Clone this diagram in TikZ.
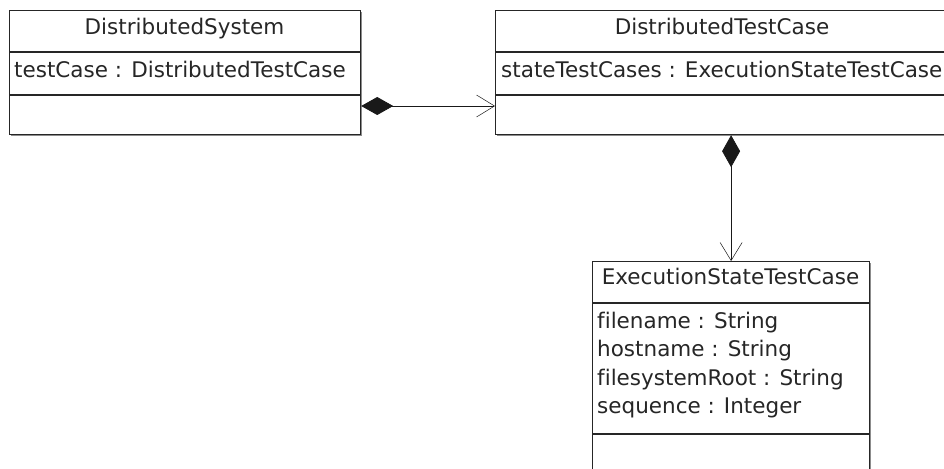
\documentclass[tikz,border=0pt]{standalone}
\usepackage{fontspec}
\setmainfont{DejaVu Sans}[Ligatures=NoCommon]
\usetikzlibrary{arrows.meta,shadows}
\begin{document}
\begin{tikzpicture}[x=1pt,y=-1pt,
  umlbox/.style={draw=black!85, line width=1.2pt, fill=white, anchor=north west, inner sep=0pt,
    drop shadow={shadow xshift=1.6pt, shadow yshift=-1.6pt, fill=black!45, opacity=1}},
  sep/.style={draw=black!85, line width=1.2pt},
  ttl/.style={anchor=base, font=\fontsize{21.5}{25}\selectfont, text=black!85, inner sep=0pt},
  attr/.style={anchor=base west, font=\fontsize{21.5}{25}\selectfont, text=black!85, inner sep=0pt},
  comp/.style={draw=black!90, line width=0.8pt,
    {Diamond[length=32pt,width=18pt]}-{Straight Barb[length=18pt,width=22pt,line width=0.5pt]}}
]
\useasboundingbox (0,0) rectangle (944,468);
\clip (0,0) rectangle (944,468);

% boxes
\node[umlbox, minimum width=351pt, minimum height=124pt] (ds) at (9,10) {};
\node[umlbox, minimum width=455pt, minimum height=124pt] (dtc) at (495,10) {};
\node[umlbox, minimum width=277pt, minimum height=220pt] (esc) at (592,261) {};

% compartments
\draw[sep] ([yshift=-42pt]ds.north west) -- ([yshift=-42pt]ds.north east);
\draw[sep] ([yshift=-85pt]ds.north west) -- ([yshift=-85pt]ds.north east);
\draw[sep] ([yshift=-42pt]dtc.north west) -- ([yshift=-42pt]dtc.north east);
\draw[sep] ([yshift=-85pt]dtc.north west) -- ([yshift=-85pt]dtc.north east);
\draw[sep] ([yshift=-42pt]esc.north west) -- ([yshift=-42pt]esc.north east);
\draw[sep] ([yshift=-173pt]esc.north west) -- ([yshift=-173pt]esc.north east);

% texts
\node[ttl] (dsname) at (184.5,34.5) {DistributedSystem};
\node[attr] (dsattr) at (14,77.5) {testCase : DistributedTestCase};
\node[ttl] (dtcname) at (722,34.5) {DistributedTestCase};
\node[attr] (dtcattr) at (501,77.5) {stateTestCases : ExecutionStateTestCase};
\node[ttl] (escname) at (730.5,284.5) {ExecutionStateTestCase};
\node[attr] (a1) at (597,328) {filename : String};
\node[attr] (a2) at (597,356.5) {hostname : String};
\node[attr] (a3) at (597,385) {filesystemRoot : String};
\node[attr] (a4) at (597,413.5) {sequence : Integer};

% connectors
\draw[comp] ([yshift=-96pt]ds.north east) -- ([yshift=-96pt]dtc.north west);
\draw[comp] (esc.north |- dtc.south) -- (esc.north);
\end{tikzpicture}
\end{document}
